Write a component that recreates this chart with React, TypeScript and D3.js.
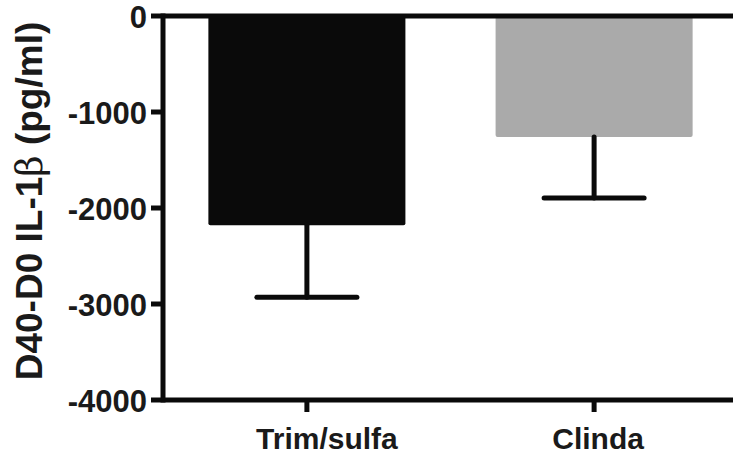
import React from "react";
import * as d3 from "d3";

const categories = ["Trim/sulfa", "Clinda"];
const means = [-2180, -1260];
const errors = [-2930, -1895];
const barColors = ["#0a0a0a", "#aaaaaa"];
const yTicks = [0, -1000, -2000, -3000, -4000];
const labelOffsets = [20, 4];

const W = 735;
const H = 455;
const axisX = 163;
const yTop = 16;
const yBottom = 400;
const font = "Liberation Sans, Arial, Helvetica, sans-serif";
const textColor = "#1a1a1a";

export default function App() {
  const y = d3.scaleLinear().domain([0, -4000]).range([yTop, yBottom]);
  const x = d3
    .scaleBand<string>()
    .domain(categories)
    .range([axisX, 738])
    .paddingInner(0.314)
    .paddingOuter(0.158);
  const bw = x.bandwidth();
  const whisker = 50;

  return (
    <svg
      width={W}
      height={H}
      style={{ position: "absolute", left: 0, top: 0 }}
      fontFamily={font}
    >
      <rect width={W} height={H} fill="#fff" />
      {categories.map((c, i) => {
        const x0 = x(c)!;
        const cx = x0 + bw / 2;
        return (
          <g key={c}>
            <rect
              x={x0}
              y={y(0)}
              width={bw}
              height={y(means[i]) - y(0)}
              fill={barColors[i]}
              rx={2}
            />
            <line
              x1={cx}
              x2={cx}
              y1={y(means[i])}
              y2={y(errors[i])}
              stroke="#0a0a0a"
              strokeWidth={5}
              strokeLinecap="round"
            />
            <line
              x1={cx - whisker}
              x2={cx + whisker}
              y1={y(errors[i])}
              y2={y(errors[i])}
              stroke="#0a0a0a"
              strokeWidth={5}
              strokeLinecap="round"
            />
          </g>
        );
      })}
      <line x1={axisX} x2={733} y1={y(0)} y2={y(0)} stroke="#0a0a0a" strokeWidth={5} />
      <line x1={axisX} x2={733} y1={y(-4000)} y2={y(-4000)} stroke="#0a0a0a" strokeWidth={5} />
      <line x1={axisX} x2={axisX} y1={y(0) - 2.5} y2={y(-4000) + 2.5} stroke="#0a0a0a" strokeWidth={5} />
      {yTicks.map((t) => (
        <g key={t}>
          <line x1={151} x2={axisX} y1={y(t)} y2={y(t)} stroke="#0a0a0a" strokeWidth={5} />
          <text
            x={147}
            y={y(t) + 1}
            textAnchor="end"
            dominantBaseline="central"
            fontSize={31}
            fontWeight="bold"
            fill={textColor}
          >
            {String(t)}
          </text>
        </g>
      ))}
      {categories.map((c, i) => {
        const cx = x(c)! + bw / 2;
        return (
          <g key={c + "t"}>
            <line x1={cx} x2={cx} y1={y(-4000)} y2={412} stroke="#0a0a0a" strokeWidth={5} />
            <text
              x={cx + labelOffsets[i]}
              y={449}
              textAnchor="middle"
              fontSize={30}
              fontWeight="bold"
              fill={textColor}
            >
              {c}
            </text>
          </g>
        );
      })}
      <text
        transform={`translate(42, 201) rotate(-90)`}
        textAnchor="middle"
        fontSize={37}
        fontWeight="bold"
        fill={textColor}
      >
        D40-D0 IL-1<tspan fontWeight="normal" fontFamily="DejaVu Serif, serif">β</tspan> (pg/ml)
      </text>
    </svg>
  );
}
